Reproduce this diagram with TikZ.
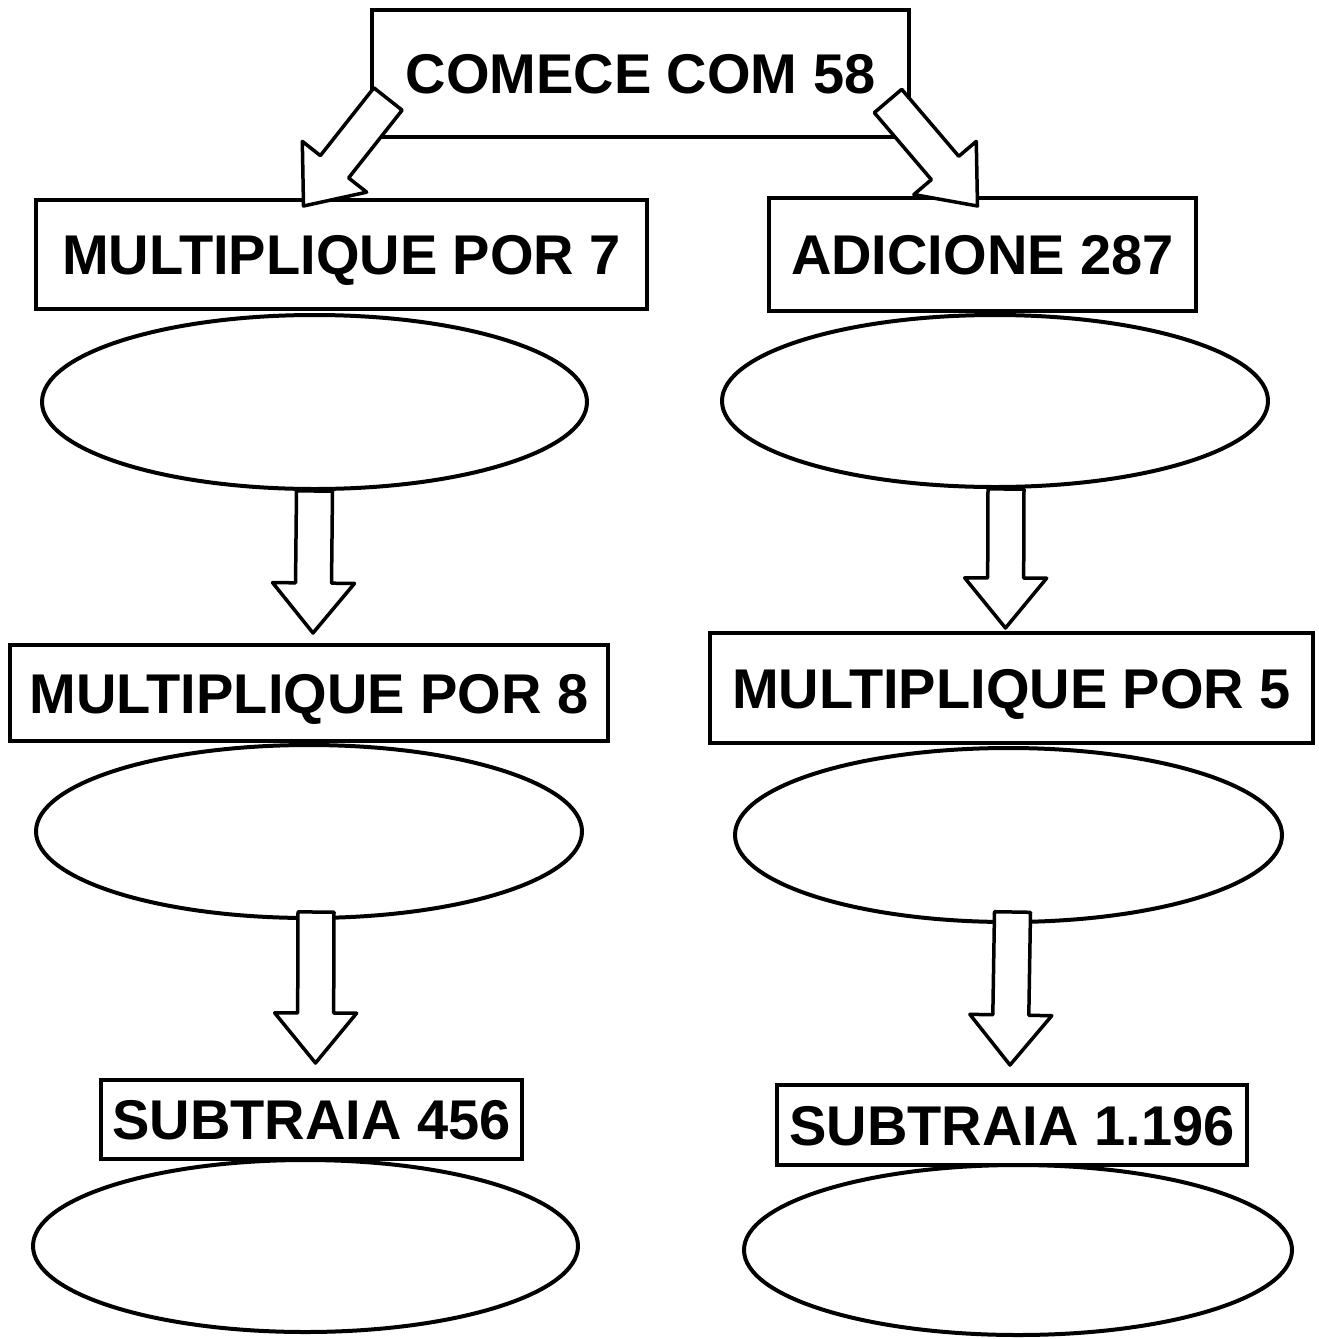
\documentclass[tikz,border=0pt]{standalone}
\usepackage{fontspec}
\setmainfont{Liberation Sans}
\usetikzlibrary{calc,shapes.geometric}
\tikzset{
  box/.style={draw=black, line width=4pt, fill=white, inner sep=0pt,
    font=\bfseries\fontsize{56}{60}\selectfont, text height=40pt, text depth=0pt},
  oval/.style={draw=black, line width=4pt, ellipse, fill=white, inner sep=0pt},
  barrow/.style={draw=black, line width=3.5pt, fill=white, line join=round}
}
\newcommand\blockarr[2]{%
  \coordinate (tmpH) at ($(#2)!50pt!(#1)$);
  \draw[barrow] ($(#1)!18pt!90:(#2)$) -- ($(tmpH)!18pt!-90:(#1)$) --
    ($(tmpH)!41pt!-90:(#1)$) -- (#2) -- ($(tmpH)!41pt!90:(#1)$) --
    ($(tmpH)!18pt!90:(#1)$) -- ($(#1)!18pt!-90:(#2)$) -- cycle;}
\begin{document}
\begin{tikzpicture}[x=1pt,y=-1pt]
\useasboundingbox[fill=white] (0,0) rectangle (1319,1339);
% boxes
\node[box, minimum width=537pt, minimum height=127pt] (start) at (640.5,73.5) {COMECE COM 58};
\node[box, minimum width=611pt, minimum height=109pt] (m7) at (341.5,254.5) {MULTIPLIQUE POR 7};
\node[box, minimum width=427pt, minimum height=113pt] (a287) at (982.5,254.5) {ADICIONE 287};
\node[box, minimum width=598pt, minimum height=96pt] (m8) at (309,693) {MULTIPLIQUE POR 8};
\node[box, minimum width=603pt, minimum height=110pt] (m5) at (1011.5,688) {MULTIPLIQUE POR 5};
\node[box, minimum width=421pt, minimum height=79pt] (s456) at (311.5,1119.5) {SUBTRAIA 456};
\node[box, minimum width=470pt, minimum height=80pt] (s1196) at (1012,1125) {SUBTRAIA 1.196};
% ellipses
\node[oval, minimum width=545pt, minimum height=174pt] (e1) at (314.5,402) {};
\node[oval, minimum width=546pt, minimum height=172pt] (e2) at (995,401) {};
\node[oval, minimum width=546pt, minimum height=173pt] (e3) at (309,831.5) {};
\node[oval, minimum width=547pt, minimum height=174pt] (e4) at (1008.5,835) {};
\node[oval, minimum width=545pt, minimum height=172pt] (e5) at (305.5,1246) {};
\node[oval, minimum width=548pt, minimum height=170pt] (e6) at (1018,1250) {};
% arrow ends
\coordinate (t1) at ($(start.south west)+(18,-40)$);
\coordinate (h1) at ($(m7.north)+(-38,8)$);
\coordinate (t2) at ($(start.south east)+(-23,-38)$);
\coordinate (h2) at ($(a287.north)+(-5,10)$);
\coordinate (t3) at (e1.south);
\coordinate (h3) at ($(m8.north)+(4,-10)$);
\coordinate (t4) at ($(e2.south)+(11,0)$);
\coordinate (h4) at ($(m5.north)+(-6,-3)$);
\coordinate (t5) at ($(e3.south)+(7,-8)$);
\coordinate (h5) at ($(s456.north)+(4,-15)$);
\coordinate (t6) at ($(e4.south)+(4,-12)$);
\coordinate (h6) at ($(s1196.north)+(-2,-18)$);
\blockarr{t1}{h1}
\blockarr{t2}{h2}
\blockarr{t3}{h3}
\blockarr{t4}{h4}
\blockarr{t5}{h5}
\blockarr{t6}{h6}
\end{tikzpicture}
\end{document}
